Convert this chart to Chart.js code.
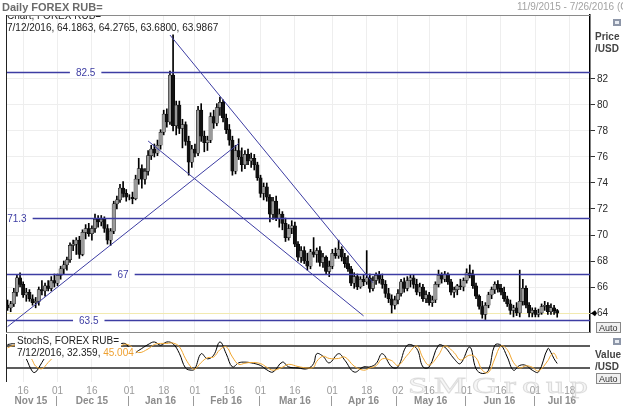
<!DOCTYPE html>
<html>
<head>
<meta charset="utf-8">
<script src="https://cdn.jsdelivr.net/npm/chart.js@4.4.1/dist/chart.umd.min.js"></script>
<style>
  html, body { margin: 0; padding: 0; background: #fff; }
  #wrap { position: relative; width: 623px; height: 406px; overflow: hidden; }
  canvas { position: absolute; left: 0; }
  #main { top: 0; }
  #stoch { top: 333px; }
</style>
</head>
<body>
<div id="wrap">
  <canvas id="main" width="623" height="333"></canvas>
  <canvas id="stoch" width="623" height="73"></canvas>
</div>
<script>
// ---- data ----
const seriesName = 'FOREX RUB=';
const firstDay = '2015-11-09';
const lastDay = '2016-07-26';

// daily candles, Nov 9 2015 .. Jul 12 2016 (one per weekday)
const opens = [
  64.6, 64.4, 64.7, 65.6, 66.7, 66.2, 65.4, 65.6, 65.1, 64.8, 64.9, 65.8, 65.7, 66.1, 65.9, 66.5,
  66.3, 66.9, 67.4, 67.7, 68.1, 69.2, 69.3, 69.6, 68.5, 70.2, 70.5, 70.1, 70.5, 71.2, 71.0, 71.2, 70.5, 69.6, 70.3, 72.4, 72.7, 73.6, 73.2,
  72.9, 72.9, 72.8, 74.3, 75.1, 74.3, 74.9, 76.1, 76.6, 76.3, 76.9, 77.9, 79.3, 78.7, 82.3, 78.4, 80.0, 78.2, 78.5, 77.2, 75.6,
  76.6, 76.3, 79.6, 77.6, 77.1, 77.3, 79.1, 78.6, 79.8, 80.2, 79.0, 78.1, 77.3, 74.9, 76.5, 76.0, 75.4, 76.2, 75.7, 75.9, 75.4,
  74.4, 73.2, 73.7, 72.9, 71.6, 72.6, 71.3, 71.6, 70.9, 69.8, 70.5, 70.7, 69.3, 68.3, 68.8, 68.0, 67.6, 68.7, 68.5, 68.8, 67.9, 68.3, 67.2,
  67.6, 68.6, 68.4, 68.9, 68.3, 67.8, 67.4, 66.3, 66.8, 66.0, 66.6, 66.4, 66.7, 65.9, 66.5, 66.9, 66.6, 66.2, 65.5, 65.1, 64.6,
  65.0, 65.5, 66.4, 65.9, 66.5, 66.7, 66.2, 65.6, 66.0, 65.1, 65.4, 64.8, 65.0, 66.2, 66.9, 66.6, 67.0, 66.4, 65.6, 65.8, 66.1, 66.0,
  66.5, 67.1, 66.9, 66.1, 65.3, 64.5, 63.9, 64.6, 65.4, 65.8, 66.2, 65.9, 65.6, 65.1, 64.7, 64.2, 64.4, 64.0, 64.9, 65.9, 64.6, 64.0,
  64.2, 63.9, 64.0, 64.5, 64.6, 64.1, 64.4, 64.1863
];
const highs = [
  65.0, 64.9, 65.9, 66.9, 67.1, 66.4, 65.9, 65.8, 65.4, 65.2, 66.0, 66.5, 66.3, 66.5, 66.8, 67.0,
  67.0, 67.6, 68.0, 68.3, 69.4, 69.6, 69.8, 69.9, 70.4, 70.8, 70.9, 70.7, 71.6, 71.5, 71.5, 71.4, 70.8, 70.5, 72.6, 73.0, 73.9, 74.1, 73.5,
  73.1, 73.3, 74.6, 75.9, 75.4, 75.1, 76.5, 76.9, 77.0, 77.3, 78.1, 79.6, 79.7, 82.6, 85.4, 80.3, 80.3, 78.9, 78.7, 77.6, 76.9,
  77.0, 79.9, 80.1, 78.0, 77.6, 79.4, 79.6, 80.1, 80.6, 80.4, 79.3, 78.5, 77.6, 76.9, 77.4, 76.7, 76.5, 76.6, 76.3, 76.2, 75.6,
  74.6, 74.0, 74.0, 73.1, 72.9, 73.0, 72.0, 71.8, 71.3, 70.8, 71.1, 71.0, 69.5, 69.1, 69.1, 68.6, 68.9, 69.8, 69.0, 69.1, 68.6, 68.4, 68.0,
  68.9, 69.0, 69.6, 69.1, 68.6, 68.4, 67.6, 67.1, 67.0, 66.8, 66.9, 68.8, 67.0, 66.8, 67.1, 67.2, 67.0, 66.5, 65.9, 65.4, 65.3,
  65.8, 66.6, 66.7, 66.8, 66.9, 66.9, 66.6, 66.3, 66.2, 65.7, 65.6, 65.3, 66.4, 67.3, 67.1, 67.2, 67.1, 66.6, 66.0, 66.2, 66.6, 66.7,
  67.4, 67.7, 67.3, 66.3, 65.4, 64.9, 64.8, 65.6, 66.0, 66.4, 66.5, 66.2, 66.0, 65.3, 65.0, 64.6, 64.8, 67.3, 66.6, 66.1, 64.8, 64.4,
  64.4, 64.3, 64.7, 64.9, 64.8, 64.7, 64.6, 64.2765
];
const lows = [
  64.2, 64.1, 64.5, 65.3, 66.0, 65.2, 64.9, 64.9, 64.6, 64.4, 64.6, 65.4, 65.3, 65.7, 65.7, 66.0,
  66.1, 66.6, 67.0, 67.3, 67.9, 68.8, 68.5, 68.2, 68.4, 69.7, 69.9, 69.6, 70.2, 70.6, 70.7, 70.2, 69.3, 69.2, 70.1, 72.0, 72.5, 72.9, 72.6,
  72.7, 72.4, 72.7, 73.9, 73.6, 73.9, 74.6, 75.8, 76.0, 76.1, 76.6, 77.7, 78.3, 78.5, 78.0, 77.7, 77.8, 76.7, 76.9, 74.6, 75.2,
  76.0, 76.1, 77.2, 76.4, 76.5, 77.1, 78.2, 78.4, 79.2, 78.7, 77.8, 76.9, 74.6, 74.7, 75.8, 74.9, 75.1, 75.4, 75.2, 75.0, 74.2,
  72.9, 72.7, 72.6, 71.0, 71.2, 71.1, 70.6, 70.4, 69.5, 69.6, 70.1, 69.1, 68.0, 67.9, 67.8, 67.3, 67.4, 68.3, 67.9, 67.6, 67.5, 67.0, 66.8,
  67.4, 68.2, 68.2, 68.0, 67.5, 67.2, 66.1, 65.9, 65.8, 65.9, 66.1, 66.2, 65.6, 65.7, 66.2, 66.3, 65.9, 65.2, 64.8, 64.0, 64.3,
  64.7, 65.3, 65.6, 65.7, 66.0, 65.9, 65.4, 65.3, 64.9, 64.8, 64.6, 64.5, 64.8, 66.0, 66.3, 66.4, 66.2, 65.4, 65.2, 65.4, 65.8, 65.7,
  66.3, 66.7, 65.9, 65.1, 64.3, 63.6, 63.5, 64.4, 65.1, 65.5, 65.6, 65.4, 64.9, 64.5, 63.9, 63.7, 63.8, 63.7, 64.6, 64.4, 63.7, 63.7,
  63.7, 63.7, 63.9, 64.2, 63.9, 63.9, 63.9, 63.68
];
const closes = [
  64.4, 64.7, 65.6, 66.7, 66.2, 65.4, 65.6, 65.1, 64.8, 64.9, 65.8, 65.7, 66.1, 65.9, 66.5, 66.3,
  66.9, 67.4, 67.7, 68.1, 69.2, 69.3, 69.6, 68.5, 70.2, 70.5, 70.1, 70.5, 71.2, 71.0, 71.2, 70.5, 69.6, 70.3, 72.4, 72.7, 73.6, 73.2, 72.9,
  72.9, 72.8, 74.3, 75.1, 74.3, 74.9, 76.1, 76.6, 76.3, 76.9, 77.9, 79.3, 78.7, 82.3, 78.4, 80.0, 78.2, 78.5, 77.2, 75.6, 76.6,
  76.3, 79.6, 77.6, 77.1, 77.3, 79.1, 78.6, 79.8, 80.2, 79.0, 78.1, 77.3, 74.9, 76.5, 76.0, 75.4, 76.2, 75.7, 75.9, 75.4, 74.4,
  73.2, 73.7, 72.9, 71.6, 72.6, 71.3, 71.6, 70.9, 69.8, 70.5, 70.7, 69.3, 68.3, 68.8, 68.0, 67.6, 68.7, 68.5, 68.8, 67.9, 68.3, 67.2, 67.6,
  68.6, 68.4, 68.9, 68.3, 67.8, 67.4, 66.3, 66.8, 66.0, 66.6, 66.4, 66.7, 65.9, 66.5, 66.9, 66.6, 66.2, 65.5, 65.1, 64.6, 65.0,
  65.5, 66.4, 65.9, 66.5, 66.7, 66.2, 65.6, 66.0, 65.1, 65.4, 64.8, 65.0, 66.2, 66.9, 66.6, 67.0, 66.4, 65.6, 65.8, 66.1, 66.0, 66.5,
  67.1, 66.9, 66.1, 65.3, 64.5, 63.9, 64.6, 65.4, 65.8, 66.2, 65.9, 65.6, 65.1, 64.7, 64.2, 64.4, 64.0, 64.9, 65.9, 64.6, 64.0, 64.2,
  63.9, 64.0, 64.5, 64.6, 64.1, 64.4, 64.1863, 63.9867
];

const priceTicks = [64, 66, 68, 70, 72, 74, 76, 78, 80, 82];
const levels = [82.5, 71.3, 67, 63.5];
const levelLabelDays = ['2015-12-14', '2015-11-12', '2015-12-30', '2015-12-15'];

const trendStartDays = ['2015-11-09', '2016-01-11', '2016-01-20'];
const trendStartVals = [62.95, 77.23, 85.38];
const trendEndDays = ['2016-02-19', '2016-04-15', '2016-04-20'];
const trendEndVals = [77.03, 63.78, 66.33];

// slow stochastic, read at selected days
const stochDays = [
  '2015-11-09', '2015-11-11', '2015-11-13', '2015-11-17', '2015-11-19', '2015-11-20', '2015-11-24', '2015-11-26',
  '2015-12-01', '2015-12-04', '2015-12-09', '2015-12-14', '2015-12-17', '2015-12-22', '2015-12-25', '2015-12-29', '2015-12-31',
  '2016-01-04', '2016-01-06', '2016-01-11', '2016-01-13', '2016-01-15', '2016-01-19', '2016-01-21', '2016-01-25', '2016-01-27', '2016-01-29',
  '2016-02-01', '2016-02-03', '2016-02-05', '2016-02-09', '2016-02-11', '2016-02-15', '2016-02-17', '2016-02-19', '2016-02-23', '2016-02-25',
  '2016-03-01', '2016-03-03', '2016-03-07', '2016-03-10', '2016-03-14', '2016-03-17', '2016-03-22', '2016-03-24', '2016-03-25', '2016-03-29', '2016-03-31',
  '2016-04-05', '2016-04-07', '2016-04-12', '2016-04-15', '2016-04-19', '2016-04-21', '2016-04-25', '2016-04-28',
  '2016-05-02', '2016-05-05', '2016-05-10', '2016-05-12', '2016-05-16', '2016-05-19', '2016-05-23', '2016-05-26', '2016-05-30',
  '2016-06-02', '2016-06-06', '2016-06-08', '2016-06-10', '2016-06-14', '2016-06-16', '2016-06-20', '2016-06-22', '2016-06-24', '2016-06-28', '2016-06-30',
  '2016-07-04', '2016-07-07', '2016-07-08', '2016-07-11', '2016-07-12'
];
const stochK = [
  84, 86, 80, 45, 10, 9, 35, 60,
  75, 88, 86, 80, 88, 70, 78, 86, 85,
  59, 68, 84, 91, 82, 91, 86, 60, 20, 14,
  18, 59, 45, 55, 91, 59, 23, 34, 36, 34,
  27, 15, 9, 36, 23, 20, 18, 32, 59, 52, 34,
  59, 41, 9, 23, 23, 32, 59, 23,
  23, 82, 73, 23, 23, 82, 77, 45, 32,
  77, 18, 5, 14, 82, 82, 50, 14, 27, 27, 14,
  9, 73, 62, 45, 32.359
];
const stochD = [
  75, 82, 84, 70, 40, 25, 18, 35,
  60, 78, 86, 84, 84, 80, 76, 80, 85,
  76, 62, 72, 84, 87, 87, 88, 78, 45, 20,
  17, 35, 48, 50, 70, 78, 50, 30, 33, 35,
  32, 22, 14, 22, 30, 24, 20, 22, 38, 52, 46,
  46, 50, 25, 14, 20, 26, 45, 40,
  27, 55, 80, 48, 28, 55, 80, 62, 42,
  55, 48, 14, 8, 45, 80, 70, 35, 20, 26, 22,
  12, 40, 55, 60, 45.004
];
const stochBands = [80, 20];

const tickDays = ['2015-11-16', '2015-12-01', '2015-12-16', '2016-01-01', '2016-01-18', '2016-02-01',
  '2016-02-16', '2016-03-01', '2016-03-16', '2016-04-01', '2016-04-18', '2016-05-02', '2016-05-16',
  '2016-06-01', '2016-06-16', '2016-07-01', '2016-07-18'];
const monthNames = ['Nov 15', 'Dec 15', 'Jan 16', 'Feb 16', 'Mar 16', 'Apr 16', 'May 16', 'Jun 16', 'Jul 16'];

// ---- helpers ----
const fontFamily = "'Liberation Sans', Arial, sans-serif";
Chart.defaults.font.family = fontFamily;
Chart.defaults.font.size = 10;

// weekday categories for the whole visible range
const days = [];
for (let d = new Date(firstDay + 'T00:00:00Z'); d <= new Date(lastDay + 'T00:00:00Z'); d.setUTCDate(d.getUTCDate() + 1)) {
  const wd = d.getUTCDay();
  if (wd !== 0 && wd !== 6) days.push(d.toISOString().slice(0, 10));
}
const usDate = s => (+s.slice(5, 7)) + '/' + (+s.slice(8, 10)) + '/' + s.slice(0, 4);
const last = closes.length - 1;
const lastDate = days[last];

const lineBlue = '#3d3da3';
const upColor = '#9a9a9a';
const downColor = '#111';
const tickIdx = tickDays.map(d => days.indexOf(d));
const setTicks = s => { s.ticks = tickIdx.map(v => ({ value: v })); };

// ---- main panel ----
const mainDecor = {
  id: 'mainDecor',
  beforeDatasetsDraw(chart) {
    const { ctx, chartArea: a, scales: { y } } = chart;
    const py = Math.round(y.getPixelForValue(closes[last])) + 0.5;
    ctx.save();
    ctx.strokeStyle = '#f2eab0';
    ctx.lineWidth = 1;
    ctx.beginPath(); ctx.moveTo(a.left, py); ctx.lineTo(a.right, py); ctx.stroke();
    ctx.restore();
  },
  afterDatasetsDraw(chart) {
    const { ctx, chartArea: a, scales: { x, y } } = chart;
    ctx.save();
    ctx.font = '10px ' + fontFamily;
    ctx.textAlign = 'center';
    ctx.textBaseline = 'middle';
    levels.forEach((v, k) => {
      const py = Math.round(y.getPixelForValue(v)) + 0.5;
      const txt = String(v);
      const cx = x.getPixelForValue(days.indexOf(levelLabelDays[k]));
      const w = ctx.measureText(txt).width;
      const g0 = Math.max(a.left, cx - w / 2 - 6), g1 = cx + w / 2 + 6;
      ctx.strokeStyle = lineBlue;
      ctx.lineWidth = 1.5;
      ctx.beginPath();
      if (g0 > a.left + 1) { ctx.moveTo(a.left, py); ctx.lineTo(g0, py); }
      ctx.moveTo(g1, py); ctx.lineTo(a.right, py);
      ctx.stroke();
      ctx.fillStyle = lineBlue;
      ctx.fillText(txt, cx, py + 0.5);
    });
    ctx.restore();
  },
  afterDraw(chart) {
    const { ctx, chartArea: a, scales: { y } } = chart;
    ctx.save();
    // panel frame
    ctx.lineWidth = 1;
    ctx.strokeStyle = '#8a8a8a';
    ctx.beginPath();
    ctx.moveTo(a.left, a.top + 0.5); ctx.lineTo(a.right, a.top + 0.5);
    ctx.moveTo(a.left, a.bottom + 0.5); ctx.lineTo(a.right, a.bottom + 0.5);
    ctx.stroke();
    ctx.strokeStyle = '#222';
    ctx.beginPath(); ctx.moveTo(a.left + 0.5, a.top); ctx.lineTo(a.left + 0.5, a.bottom); ctx.stroke();

    // title and range
    ctx.textBaseline = 'alphabetic';
    ctx.textAlign = 'left';
    ctx.font = 'bold 11px ' + fontFamily;
    ctx.fillStyle = '#6b6b6b';
    ctx.fillText('Daily ' + seriesName, 2, 11);
    ctx.font = '10px ' + fontFamily;
    ctx.fillStyle = '#a3a3a3';
    ctx.fillText(usDate(firstDay) + ' - ' + usDate(lastDay) + ' (GMT)', 517, 10);

    // legend, first line clipped by the frame
    ctx.fillStyle = '#222';
    ctx.save();
    ctx.beginPath(); ctx.rect(0, a.top + 1, 300, 20); ctx.clip();
    ctx.fillText('Chart, ' + seriesName, 7, 19);
    ctx.restore();
    ctx.fillText(usDate(lastDate) + ', ' + opens[last].toFixed(4) + ', ' + highs[last].toFixed(4) + ', ' +
      lows[last].toFixed(4) + ', ' + closes[last].toFixed(4), 7, 31);

    // axis caption and buttons
    ctx.font = 'bold 10px ' + fontFamily;
    ctx.fillStyle = '#444';
    ctx.fillText('Price', 595, 40);
    ctx.fillText('/USD', 595, 52);
    ctx.fillStyle = '#8d96a8';
    ctx.fillRect(613, 19, 8, 7);
    ctx.fillStyle = '#e8ecf2';
    ctx.fillRect(615, 21, 4, 3);
    ctx.strokeStyle = '#888';
    ctx.fillStyle = '#f0f0f0';
    ctx.fillRect(596.5, 322.5, 24, 10);
    ctx.strokeRect(596.5, 322.5, 24, 10);
    ctx.fillStyle = '#333';
    ctx.font = '9px ' + fontFamily;
    ctx.fillText('Auto', 599, 331);

    // last price marker
    const py = y.getPixelForValue(closes[last]);
    ctx.fillStyle = '#000';
    ctx.beginPath();
    ctx.moveTo(591, py); ctx.lineTo(595, py - 3); ctx.lineTo(597, py); ctx.lineTo(595, py + 3);
    ctx.closePath(); ctx.fill();
    ctx.restore();
  }
};

const trendSets = trendStartDays.map((d, k) => ({
  type: 'line',
  data: [{ x: d, y: trendStartVals[k] }, { x: trendEndDays[k], y: trendEndVals[k] }],
  borderColor: lineBlue,
  borderWidth: 1,
  pointRadius: 0,
  order: 0
}));

new Chart(document.getElementById('main'), {
  type: 'bar',
  data: {
    labels: days,
    datasets: [
      ...trendSets,
      {
        data: opens.map((o, i) => [o, closes[i]]),
        backgroundColor: closes.map((c, i) => c >= opens[i] ? upColor : downColor),
        borderColor: '#000',
        borderWidth: 0.5,
        borderSkipped: false,
        barThickness: 3.4,
        grouped: false,
        order: 1
      },
      {
        data: lows.map((l, i) => [l, highs[i]]),
        backgroundColor: '#000',
        barThickness: 1,
        grouped: false,
        order: 2
      }
    ]
  },
  options: {
    responsive: false,
    animation: false,
    events: [],
    layout: { padding: { left: 6, right: 0, top: 15, bottom: 1 } },
    plugins: { legend: { display: false }, tooltip: { enabled: false } },
    scales: {
      x: {
        offset: true,
        grid: { offset: false, color: '#eeeeee', drawTicks: false },
        border: { display: false },
        ticks: { display: false, autoSkip: false },
        afterBuildTicks: setTicks,
        afterFit(s) { s.height = 0; s.paddingLeft = 0; s.paddingRight = 0; }
      },
      y: {
        position: 'right',
        min: 62.54,
        max: 86.92,
        grid: { color: '#eeeeee', tickColor: '#333', tickLength: 5 },
        border: { color: '#000', width: 1.5 },
        ticks: { color: '#2a2a2a', padding: 2 },
        afterBuildTicks(s) { s.ticks = priceTicks.map(v => ({ value: v })); },
        afterFit(s) { s.width = 33; s.paddingTop = 0; s.paddingBottom = 0; }
      }
    }
  },
  plugins: [mainDecor]
});

// ---- stochastic panel ----
const stochDecor = {
  id: 'stochDecor',
  beforeDatasetsDraw(chart) {
    const { ctx, chartArea: a, scales: { y } } = chart;
    ctx.save();
    ctx.strokeStyle = '#5c5c5c';
    ctx.lineWidth = 2;
    stochBands.forEach(v => {
      const py = Math.round(y.getPixelForValue(v));
      ctx.beginPath(); ctx.moveTo(a.left, py); ctx.lineTo(a.right, py); ctx.stroke();
    });
    ctx.restore();
  },
  afterDatasetsDraw(chart) {
    const { ctx } = chart;
    ctx.save();
    ctx.font = '10px ' + fontFamily;
    const l1 = 'StochS, ' + seriesName;
    const l2 = usDate(lastDate) + ', ' + stochK[stochK.length - 1].toFixed(3) + ', ';
    const l3 = stochD[stochD.length - 1].toFixed(3);
    const w1 = ctx.measureText(l1).width, w2 = ctx.measureText(l2).width, w3 = ctx.measureText(l3).width;
    ctx.fillStyle = '#fff';
    ctx.fillRect(15, 2, w1 + 4, 12);
    ctx.fillRect(15, 14, w2 + w3 + 4, 12);
    ctx.fillStyle = '#222';
    ctx.fillText(l1, 17, 11);
    ctx.fillText(l2, 17, 23);
    ctx.fillStyle = '#eea030';
    ctx.fillText(l3, 17 + w2, 23);
    ctx.restore();
  },
  afterDraw(chart) {
    const { ctx, chartArea: a, scales: { x } } = chart;
    ctx.save();
    ctx.strokeStyle = '#222';
    ctx.lineWidth = 1;
    ctx.beginPath(); ctx.moveTo(a.left + 0.5, a.top); ctx.lineTo(a.left + 0.5, a.bottom); ctx.stroke();

    // month captions under the day ticks
    const half = (x.getPixelForValue(1) - x.getPixelForValue(0)) / 2;
    const monthKeys = [...new Set(days.map(d => d.slice(0, 7)))];
    ctx.font = 'bold 10px ' + fontFamily;
    ctx.textAlign = 'center';
    ctx.textBaseline = 'middle';
    monthKeys.forEach((m, k) => {
      const i0 = days.findIndex(d => d.startsWith(m));
      let i1 = i0;
      while (i1 + 1 < days.length && days[i1 + 1].startsWith(m)) i1++;
      const x0 = x.getPixelForValue(i0) - half, x1 = x.getPixelForValue(i1) + half;
      ctx.fillStyle = '#8c8c8c';
      ctx.fillText(monthNames[k], (x0 + x1) / 2, 68);
      if (k > 0) {
        ctx.strokeStyle = '#9a9a9a';
        ctx.beginPath(); ctx.moveTo(Math.round(x0) + 0.5, 63); ctx.lineTo(Math.round(x0) + 0.5, 73); ctx.stroke();
      }
    });

    // axis caption and buttons
    ctx.textAlign = 'left';
    ctx.textBaseline = 'alphabetic';
    ctx.fillStyle = '#444';
    ctx.fillText('Value', 595, 25);
    ctx.fillText('/USD', 595, 37);
    ctx.fillStyle = '#8d96a8';
    ctx.fillRect(613, 5, 8, 7);
    ctx.fillStyle = '#e8ecf2';
    ctx.fillRect(615, 7, 4, 3);
    ctx.strokeStyle = '#888';
    ctx.fillStyle = '#f0f0f0';
    ctx.fillRect(596.5, 40.5, 24, 10);
    ctx.strokeRect(596.5, 40.5, 24, 10);
    ctx.fillStyle = '#333';
    ctx.font = '9px ' + fontFamily;
    ctx.fillText('Auto', 599, 49);

    // watermark
    ctx.translate(408, 60);
    ctx.scale(1.5, 1);
    ctx.font = '24px "Liberation Serif", serif';
    ctx.letterSpacing = '4px';
    ctx.fillStyle = 'rgba(228,228,228,0.35)';
    ctx.strokeStyle = 'rgba(185,185,185,0.45)';
    ctx.lineWidth = 0.8;
    ctx.fillText('SMGroup', 0, 0);
    ctx.strokeText('SMGroup', 0, 0);
    ctx.restore();
  }
};

new Chart(document.getElementById('stoch'), {
  type: 'line',
  data: {
    labels: days,
    datasets: [
      {
        data: stochDays.map((d, i) => ({ x: d, y: stochD[i] })),
        borderColor: '#f0a630',
        borderWidth: 1,
        pointRadius: 0,
        tension: 0.4
      },
      {
        data: stochDays.map((d, i) => ({ x: d, y: stochK[i] })),
        borderColor: '#000',
        borderWidth: 1,
        pointRadius: 0,
        tension: 0.4
      }
    ]
  },
  options: {
    responsive: false,
    animation: false,
    events: [],
    layout: { padding: { left: 6, right: 0, top: 1, bottom: 0 } },
    plugins: { legend: { display: false }, tooltip: { enabled: false } },
    scales: {
      x: {
        offset: true,
        grid: { offset: false, color: '#eeeeee', drawTicks: false },
        border: { display: false },
        ticks: {
          autoSkip: false,
          maxRotation: 0,
          color: '#9a9a9a',
          padding: 3,
          callback: v => days[v].slice(8, 10)
        },
        afterBuildTicks: setTicks,
        afterFit(s) { s.height = 24; s.paddingLeft = 0; s.paddingRight = 0; }
      },
      y: {
        position: 'right',
        min: -18.2,
        max: 112.7,
        grid: { display: false },
        border: { display: false },
        ticks: { display: false },
        afterFit(s) { s.width = 33; s.paddingTop = 0; s.paddingBottom = 0; }
      }
    }
  },
  plugins: [stochDecor]
});
</script>
</body>
</html>
